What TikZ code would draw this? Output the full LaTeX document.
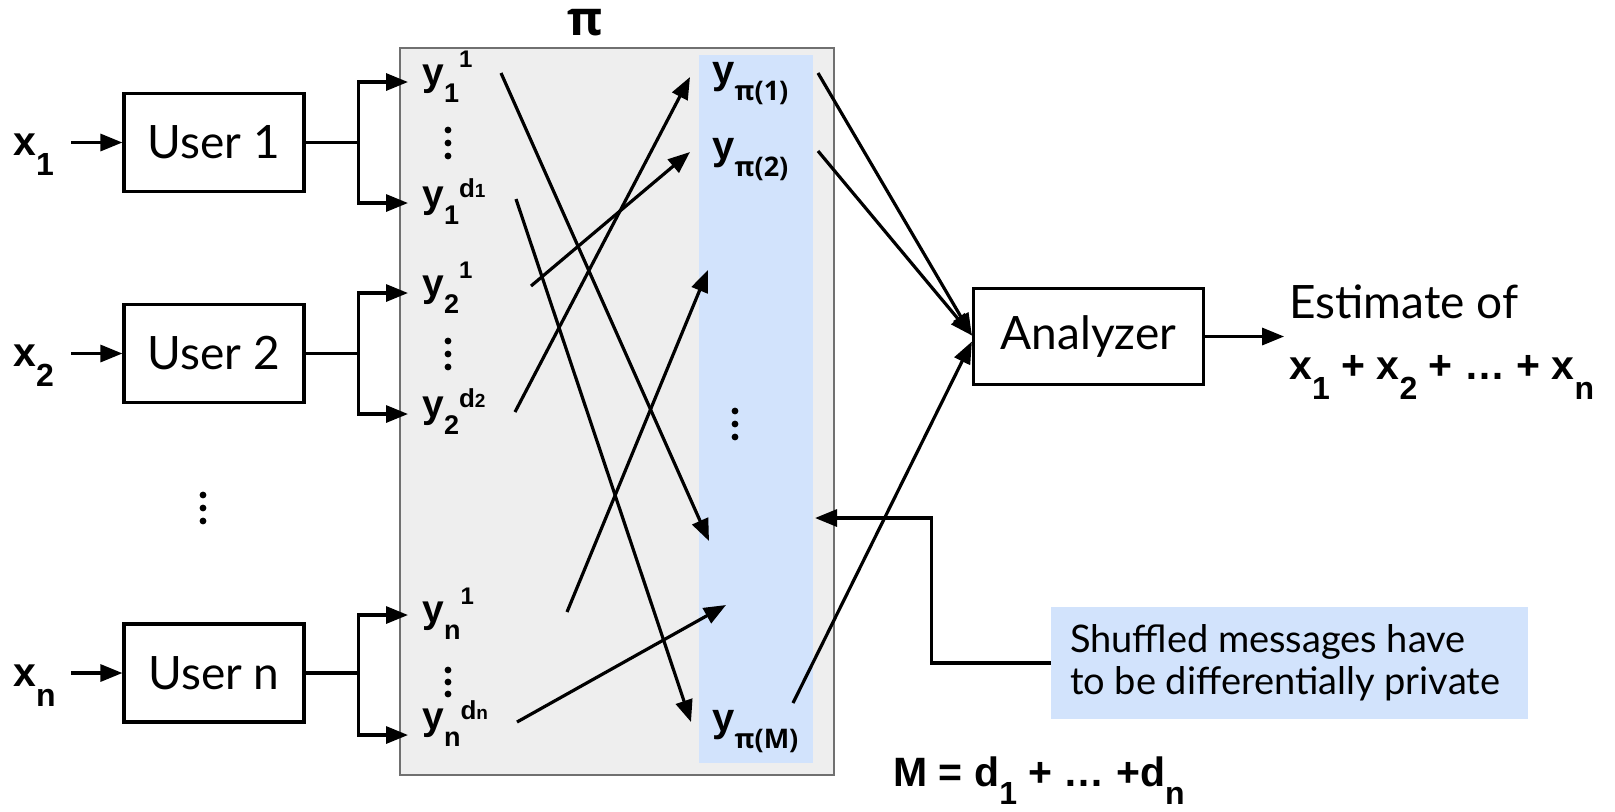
\documentclass[tikz,border=0pt]{standalone}
\usepackage{fontspec}
\setmainfont{Lato}
\newfontfamily\labfont{Liberation Sans}
\newfontfamily\grkfont{Open Sans}
\usetikzlibrary{arrows.meta}

\definecolor{shufgray}{RGB}{238,238,238}
\definecolor{shufedge}{RGB}{112,112,112}
\definecolor{msgblue}{RGB}{210,227,252}

\newcommand\fs[1]{\fontsize{#1}{#1}\selectfont}
% y with a lowered index and a raised index written after it
\newcommand\ylab[3]{{\labfont\bfseries\fs{19.5}y\raisebox{-8.5pt}{\fs{13.5}#1}\raisebox{#3}{\fs{12}#2}}}
% small d with its own tiny index
\newcommand\dsup[1]{{\fs{13}d\fs{9.5}#1}}
% shuffled message y_{pi(k)}
\newcommand\yplab[1]{{\labfont\bfseries\fs{20}y}\raisebox{-8.5pt}{\grkfont\bfseries\fs{13.5}π(#1)}}
% bold x with a large lowered index
\newcommand\xsym[1]{x\raisebox{-10pt}{\fs{16}#1}}

\tikzset{
  lw/.style={line width=1.6pt},
  arr/.style={lw, -{Triangle[length=11pt,width=8.5pt]}},
  plain/.style={lw},
  userbox/.style={draw, lw, minimum width=90pt, minimum height=49pt, inner sep=0pt, font=\fs{23}},
  lab/.style={anchor=base west, inner sep=0pt},
  dot/.style={fill=black},
}

\begin{document}
\begin{tikzpicture}[x=0.5pt, y=-0.5pt]
\useasboundingbox (0,0) rectangle (1615,811);

% shuffler and the column of shuffled messages
\node[draw=shufedge, line width=1pt, fill=shufgray, minimum width=217pt, minimum height=363.5pt, inner sep=0pt] (shuf) at (617,411.5) {};
\node[fill=msgblue, minimum width=57pt, minimum height=354pt, inner sep=0pt] (col) at (756,409) {};
\node[anchor=base, inner sep=0pt] (pi) at (585,35) {\grkfont\bfseries\fs{24}π};

% users
\node[userbox] (u1) at (214,142.5) {User 1};
\node[userbox] (u2) at (214,353.5) {User 2};
\node[userbox] (un) at (214,673) {User n};

% inputs
\node[lab] (x1) at (13,155) {\labfont\bfseries\fs{20.5}\xsym{1}};
\node[lab] (x2) at (13,366) {\labfont\bfseries\fs{20.5}\xsym{2}};
\node[lab] (xn) at (13,686) {\labfont\bfseries\fs{20.5}\xsym{n}};
\draw[arr] ([xshift=-25.5pt]u1.west) -- (u1.west);
\draw[arr] ([xshift=-25.5pt]u2.west) -- (u2.west);
\draw[arr] ([xshift=-25.5pt]un.west) -- (un.west);

% messages of each user
\node[lab] (y11) at (422,85)  {\ylab{1}{1}{9pt}};
\node[lab] (y1d) at (422,207) {\ylab{1}{\dsup{1}}{5pt}};
\node[lab] (y21) at (422,296) {\ylab{2}{1}{9pt}};
\node[lab] (y2d) at (422,417) {\ylab{2}{\dsup{2}}{5pt}};
\node[lab] (yn1) at (422,622) {\ylab{n}{1}{9pt}};
\node[lab] (ynd) at (422,729) {\ylab{n}{\dsup{n}}{5pt}};

\coordinate (t11) at (408,82);
\coordinate (t1d) at (408,203);
\coordinate (t21) at (408,293);
\coordinate (t2d) at (408,414);
\coordinate (tn1) at (408,615);
\coordinate (tnd) at (408,735);

\draw[plain] (u1.east) -- ++(53,0) coordinate (f1);
\draw[arr] (f1) |- (t11);
\draw[arr] (f1) |- (t1d);
\draw[plain] (u2.east) -- ++(53,0) coordinate (f2);
\draw[arr] (f2) |- (t21);
\draw[arr] (f2) |- (t2d);
\draw[plain] (un.east) -- ++(53,0) coordinate (fn);
\draw[arr] (fn) |- (tn1);
\draw[arr] (fn) |- (tnd);

% vertical ellipses
\foreach \yy in {130,143,156} \fill[dot] (448,\yy) circle[radius=1.7pt];
\foreach \yy in {341,354,367} \fill[dot] (448,\yy) circle[radius=1.7pt];
\foreach \yy in {670,682,694} \fill[dot] (448,\yy) circle[radius=1.7pt];
\foreach \yy in {495,508,521} \fill[dot] (203,\yy) circle[radius=1.7pt];
\foreach \yy in {411,424,437} \fill[dot] (735,\yy) circle[radius=1.7pt];

% shuffled messages
\node[lab] (p1) at (712,83)  {\yplab{1}};
\node[lab] (p2) at (712,159) {\yplab{2}};
\node[lab] (pM) at (712,731) {\yplab{M}};

% permutation
\coordinate (s1) at (501,73);  \coordinate (e1) at (709,541);
\coordinate (s2) at (516,199); \coordinate (e2) at (691,722);
\coordinate (s3) at (531,286); \coordinate (e3) at (690,152);
\coordinate (s4) at (515,412); \coordinate (e4) at (690,77);
\coordinate (s5) at (567,612); \coordinate (e5) at (708,270);
\coordinate (s6) at (517,722); \coordinate (e6) at (726,605);
\foreach \k in {1,...,6} \draw[arr] (s\k) -- (e\k);

% analyzer
\node[userbox, minimum width=115pt, minimum height=48pt] (an) at (1088.5,336.5) {Analyzer};
\coordinate (r1) at (818,73);
\coordinate (r2) at (818,151);
\coordinate (r3) at (793,703);
\draw[arr] (r1) -- ([yshift=0.5pt]an.west);
\draw[arr] (r2) -- ([yshift=0.5pt]an.west);
\draw[arr] (r3) -- ([yshift=-2.5pt]an.west);
\draw[arr] (an.east) -- ++(79,0) coordinate (out);

\node[lab] (est) at (1289,318) {\fs{23}Estimate of};
\node[lab] (sum) at (1289,379) {\labfont\bfseries\fs{20.5}\xsym{1} + \xsym{2} + … + \xsym{n}};

% note on privacy
\node[fill=msgblue, minimum width=238.5pt, minimum height=56pt, inner sep=0pt] (note) at (1289.5,663) {};
\node[anchor=west, inner sep=0pt, align=left, font=\fontsize{19}{21}\selectfont] (notetext) at ([xshift=9.5pt]note.west)
  {Shuffled messages have\\to be differentially private};
\coordinate (tnote) at (815,518);
\draw[arr] (note.west) -- ++(-119,0) |- (tnote);

\node[lab] (msum) at (893,786) {\labfont\bfseries\fs{20.5}M = d\raisebox{-9pt}{\fs{16}1} + … +d\raisebox{-9pt}{\fs{16}n}};
\end{tikzpicture}
\end{document}
